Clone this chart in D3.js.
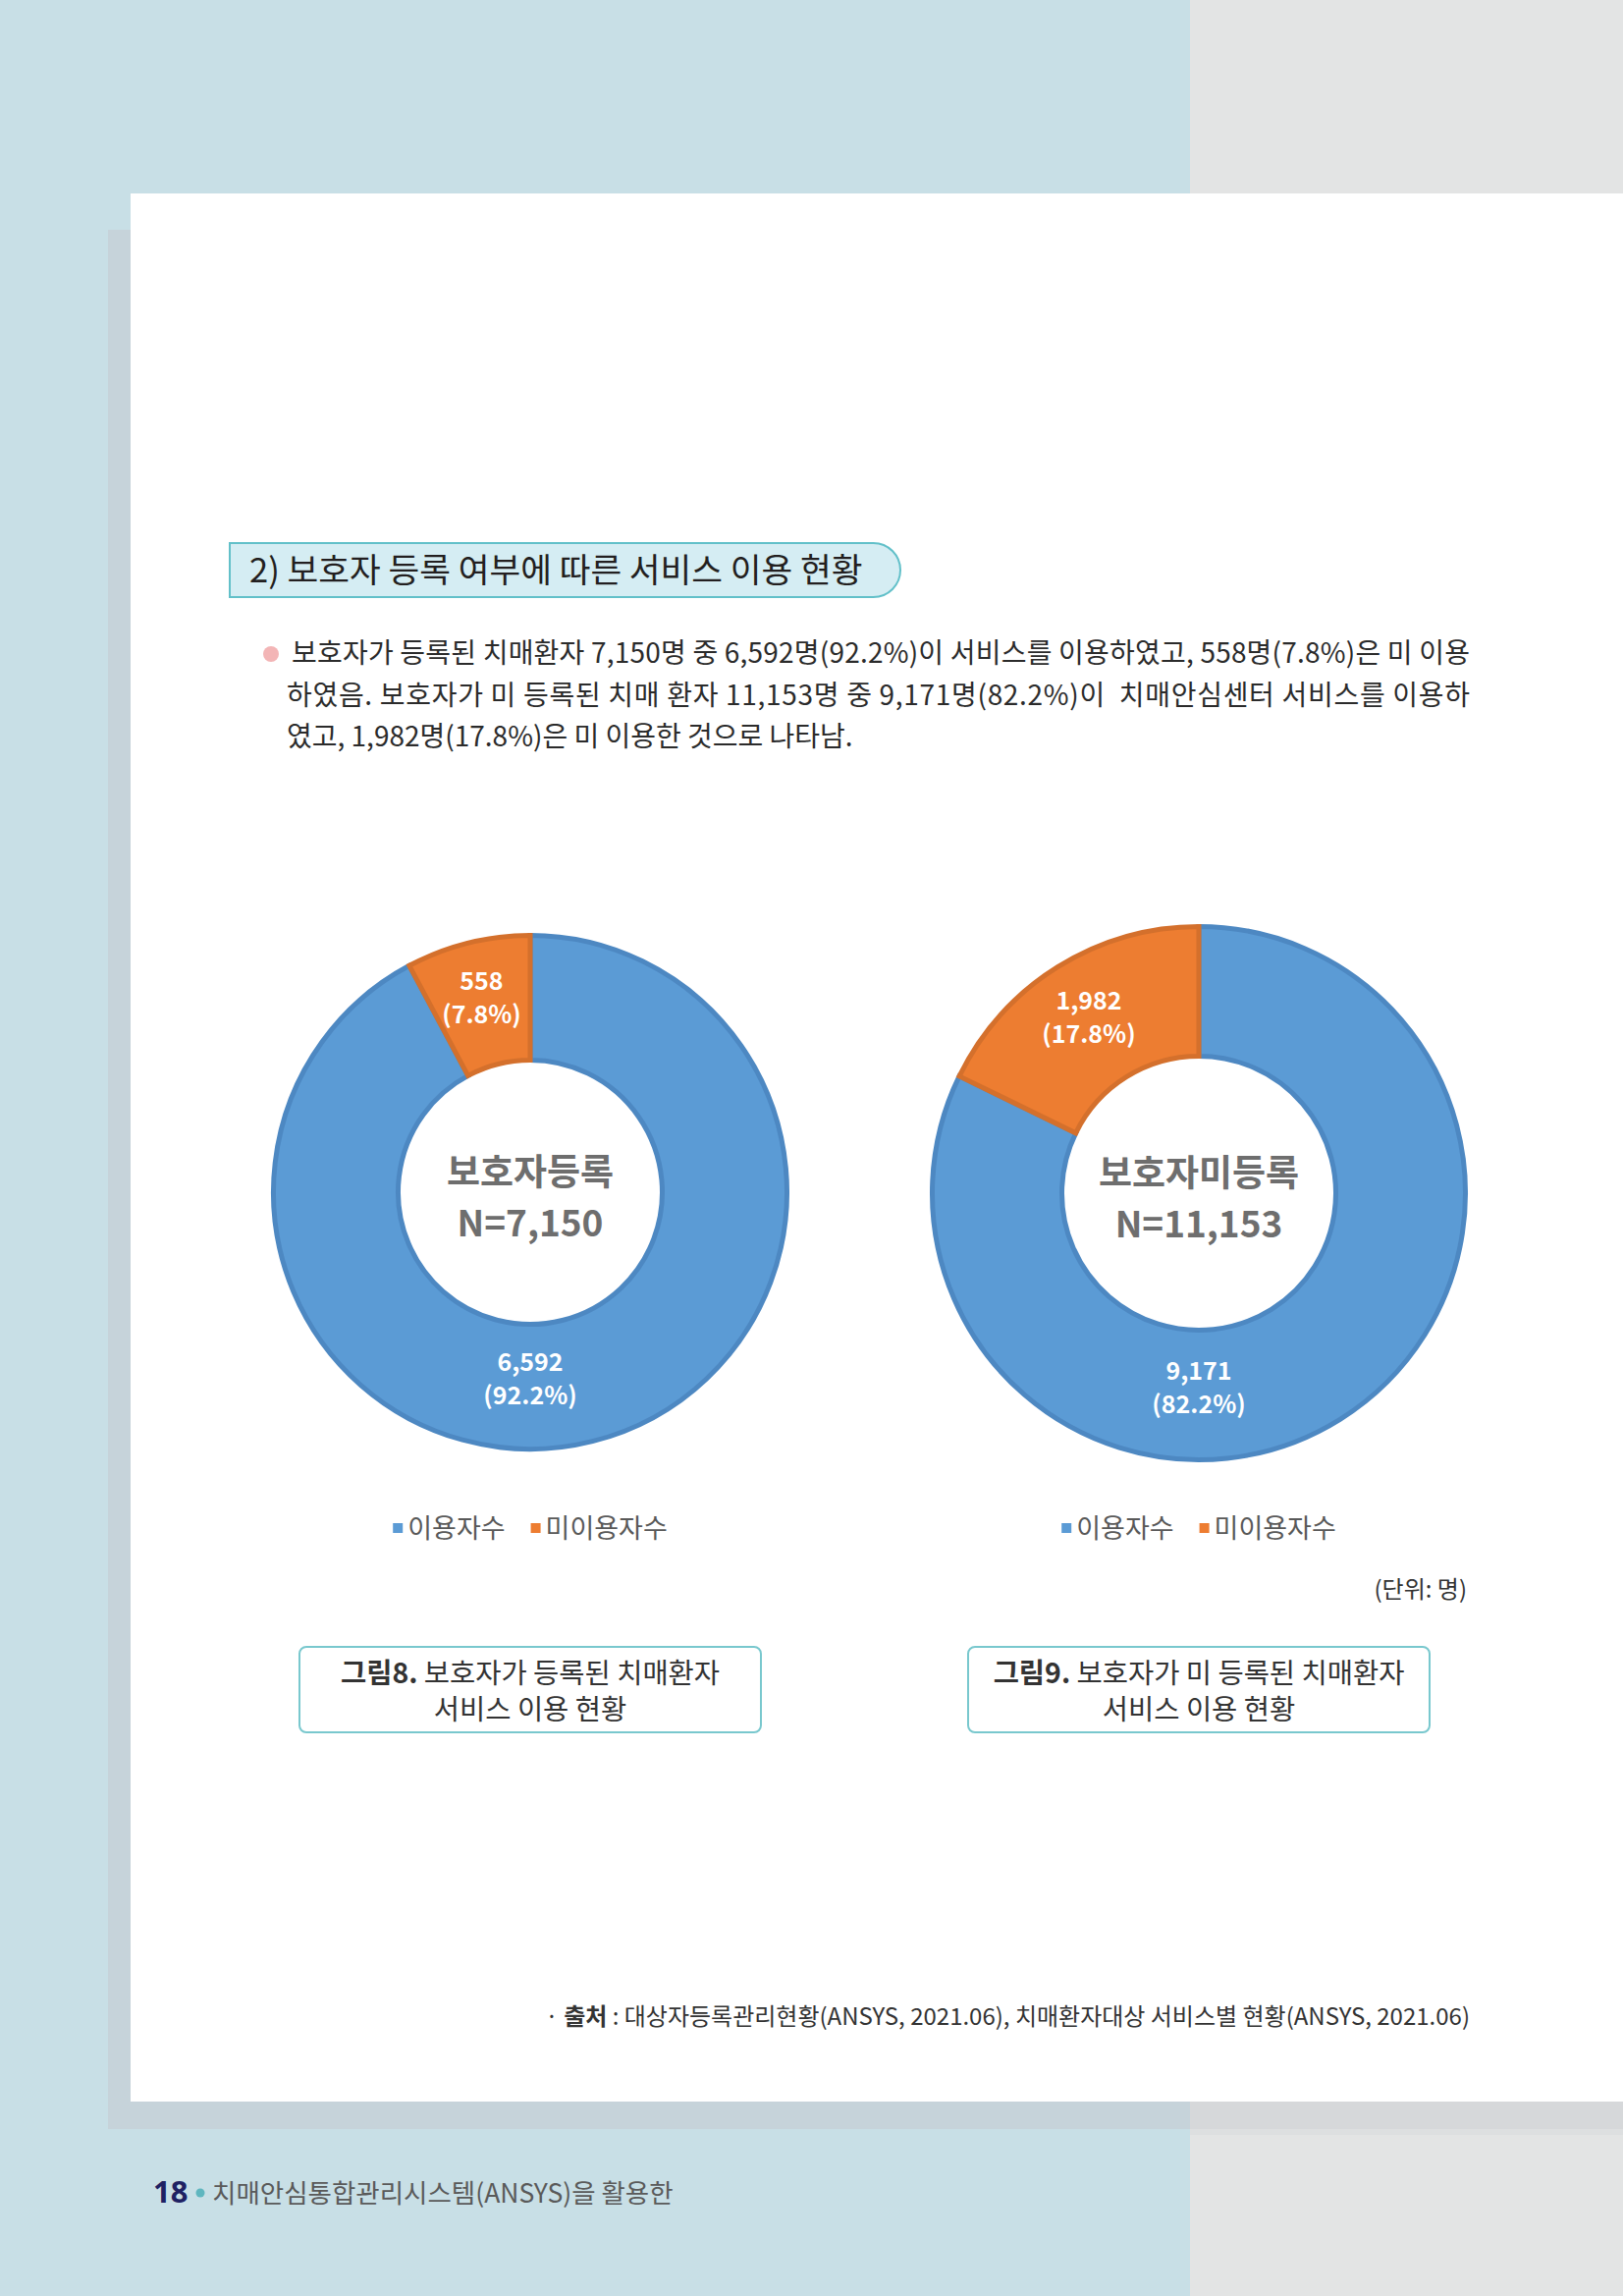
<!DOCTYPE html>
<meta charset="utf-8">
<style>
  body { margin: 0; background: #fff; }
  svg { display: block; font-family: "Noto Sans CJK KR", "Noto Sans", sans-serif; }
  .slice-label { fill: #fff; font-weight: bold; font-size: 25px; text-anchor: middle; }
  .center-label { fill: #6e6e6e; font-size: 37px; font-weight: bold; text-anchor: middle; }
  .legend text { fill: #595959; font-size: 27px; }
</style>
<body>
<script src="https://cdn.jsdelivr.net/npm/d3@7"></script>
<script>
  // data
  var categories = ["이용자수", "미이용자수"];
  var registeredValues = [6592, 558];
  var registeredPct = [92.2, 7.8];
  var unregisteredValues = [9171, 1982];
  var unregisteredPct = [82.2, 17.8];
  var chartTitles = ["보호자등록", "보호자미등록"];
  var chartTotals = [7150, 11153];
  var captions = [
    ["그림8.", " 보호자가 등록된 치매환자", "서비스 이용 현황"],
    ["그림9.", " 보호자가 미 등록된 치매환자", "서비스 이용 현황"]
  ];
  var bodyLines = [
    "보호자가 등록된 치매환자 7,150명 중 6,592명(92.2%)이 서비스를 이용하였고, 558명(7.8%)은 미 이용",
    "하였음. 보호자가 미 등록된 치매 환자 11,153명 중 9,171명(82.2%)이  치매안심센터 서비스를 이용하",
    "였고, 1,982명(17.8%)은 미 이용한 것으로 나타남."
  ];

  var W = 1653, H = 2338;
  var colors = d3.scaleOrdinal().domain(categories).range(["#5b9bd5", "#ed7d31"]);
  var strokes = d3.scaleOrdinal().domain(categories).range(["#4d88c2", "#d4702c"]);

  var svg = d3.select("body").append("svg")
    .attr("width", W)
    .attr("height", H);

  // page background
  svg.append("rect").attr("width", W).attr("height", H).attr("fill", "#c8dfe6");
  svg.append("rect").attr("x", 1212).attr("width", W - 1212).attr("height", H).attr("fill", "#e3e4e4");
  // shadow under white sheet
  svg.append("rect").attr("x", 110).attr("y", 234).attr("width", 1212 - 110).attr("height", 2168 - 234).attr("fill", "#c6d3da");
  svg.append("rect").attr("x", 1212).attr("y", 234).attr("width", W - 1212).attr("height", 2168 - 234).attr("fill", "#d6d8da");
  svg.append("rect").attr("x", 1212).attr("y", 2168).attr("width", W - 1212).attr("height", 6).attr("fill", "#dddfe0");
  svg.append("rect").attr("x", 133).attr("y", 197).attr("width", W - 133).attr("height", 2140 - 197).attr("fill", "#fff");

  // section heading box
  var hx0 = 234, hx1 = 917, hy0 = 553, hy1 = 608, hr = (hy1 - hy0) / 2;
  svg.append("path")
    .attr("d", "M" + hx0 + "," + hy0 + "H" + (hx1 - hr) +
      "A" + hr + "," + hr + " 0 0 1 " + (hx1 - hr) + "," + hy1 + "H" + hx0 + "Z")
    .attr("fill", "#d5edf3")
    .attr("stroke", "#62c0c9")
    .attr("stroke-width", 2);
  svg.append("text")
    .attr("x", 254).attr("y", 593)
    .attr("font-size", 34.5).attr("fill", "#231f20")
    .text("2) 보호자 등록 여부에 따른 서비스 이용 현황");

  // body paragraph
  svg.append("circle").attr("cx", 276).attr("cy", 666).attr("r", 8).attr("fill", "#f3b5b6");
  var bodyG = svg.append("g").attr("font-size", 28).attr("fill", "#2b2b2b");
  bodyLines.forEach(function(line, i) {
    var t = bodyG.append("text")
      .attr("x", i === 0 ? 297 : 292)
      .attr("y", 675 + i * 42.5)
      .attr("xml:space", "preserve")
      .style("white-space", "pre")
      .text(line);
    if (i < 2) t.attr("textLength", 1497 - (i === 0 ? 297 : 292)).attr("lengthAdjust", "spacing");
  });

  // donut charts
  var charts = [
    {cx: 540, cy: 1214, R: 264, values: registeredValues, pct: registeredPct},
    {cx: 1221, cy: 1215, R: 274, values: unregisteredValues, pct: unregisteredPct}
  ];

  var pie = d3.pie().sort(null).value(function(d) { return d.value; });

  charts.forEach(function(c, ci) {
    var rIn = c.R * 0.5;
    var arc = d3.arc().innerRadius(rIn + 2.5).outerRadius(c.R - 2.5);
    var data = categories.map(function(k, i) { return {key: k, value: c.values[i], pct: c.pct[i]}; });
    var g = svg.append("g").attr("transform", "translate(" + c.cx + "," + c.cy + ")");

    var arcs = pie(data);
    g.selectAll("path.slice")
      .data(arcs)
      .join("path")
      .attr("class", "slice")
      .attr("d", arc)
      .attr("fill", function(d) { return colors(d.data.key); })
      .attr("stroke", function(d) { return strokes(d.data.key); })
      .attr("stroke-width", 5)
      .attr("stroke-linejoin", "miter");

    // labels: big slice label sits at the bottom, small slice at its centroid
    var rMid = (c.R + rIn) / 2;
    var lab = g.selectAll("g.lab")
      .data(arcs)
      .join("g")
      .attr("class", "lab")
      .attr("transform", function(d) {
        var big = d.startAngle <= Math.PI && d.endAngle >= Math.PI;
        var a = big ? Math.PI : (d.startAngle + d.endAngle) / 2;
        var rr = big ? rMid - 8 : rMid + 6;
        return "translate(" + (rr * Math.sin(a)) + "," + (-rr * Math.cos(a)) + ")";
      });
    lab.append("text").attr("class", "slice-label").attr("y", -8)
      .text(function(d) { return d3.format(",")(d.data.value); });
    lab.append("text").attr("class", "slice-label").attr("y", 26)
      .text(function(d) { return "(" + d.data.pct + "%)"; });

    g.append("text").attr("class", "center-label").attr("y", -7).text(chartTitles[ci]);
    g.append("text").attr("class", "center-label").attr("y", 45).text("N=" + d3.format(",")(chartTotals[ci]));

    // legend
    var leg = svg.append("g").attr("class", "legend");
    var items = leg.selectAll("g").data(categories).join("g");
    items.append("rect").attr("width", 10).attr("height", 10).attr("y", -5)
      .attr("fill", function(d) { return colors(d); });
    items.append("text").attr("x", 15).attr("y", 10).text(function(d) { return d; });
    var xpos = 0;
    items.each(function() {
      var w = this.getBBox().width;
      d3.select(this).attr("transform", "translate(" + xpos + ",0)");
      xpos += w + 26;
    });
    xpos -= 26;
    leg.attr("transform", "translate(" + (c.cx - xpos / 2) + ",1556)");

    // caption box
    var bw = 470, bh = 87;
    var cap = svg.append("g").attr("transform", "translate(" + (c.cx - bw / 2) + ",1677)");
    cap.append("rect").attr("width", bw).attr("height", bh).attr("rx", 7)
      .attr("fill", "#fff").attr("stroke", "#79c8ce").attr("stroke-width", 2);
    var t1 = cap.append("text").attr("x", bw / 2).attr("y", 37).attr("text-anchor", "middle")
      .attr("font-size", 28.5).attr("fill", "#333");
    t1.append("tspan").attr("font-weight", "bold").text(captions[ci][0]);
    t1.append("tspan").text(captions[ci][1]);
    cap.append("text").attr("x", bw / 2).attr("y", 74).attr("text-anchor", "middle")
      .attr("font-size", 28.5).attr("fill", "#333").text(captions[ci][2]);
  });

  // unit note
  svg.append("text").attr("x", 1494).attr("y", 1627).attr("text-anchor", "end")
    .attr("font-size", 24).attr("fill", "#333").text("(단위: 명)");

  // source note
  var src = svg.append("text").attr("x", 1497).attr("y", 2062).attr("text-anchor", "end")
    .attr("font-size", 24).attr("fill", "#333");
  src.append("tspan").text("· ");
  src.append("tspan").attr("font-weight", "bold").text("출처");
  src.append("tspan").text(" : 대상자등록관리현황(ANSYS, 2021.06), 치매환자대상 서비스별 현황(ANSYS, 2021.06)");

  // page footer
  svg.append("text").attr("x", 156).attr("y", 2243).attr("font-size", 31).attr("font-weight", "bold")
    .attr("fill", "#1f2163").attr("font-family", "'Noto Sans', sans-serif").text("18");
  svg.append("circle").attr("cx", 204).attr("cy", 2233).attr("r", 4.5).attr("fill", "#5fb6bf");
  svg.append("text").attr("x", 216).attr("y", 2243).attr("font-size", 26.5).attr("fill", "#5a5a5a")
    .text("치매안심통합관리시스템(ANSYS)을 활용한");
</script>
</body>
